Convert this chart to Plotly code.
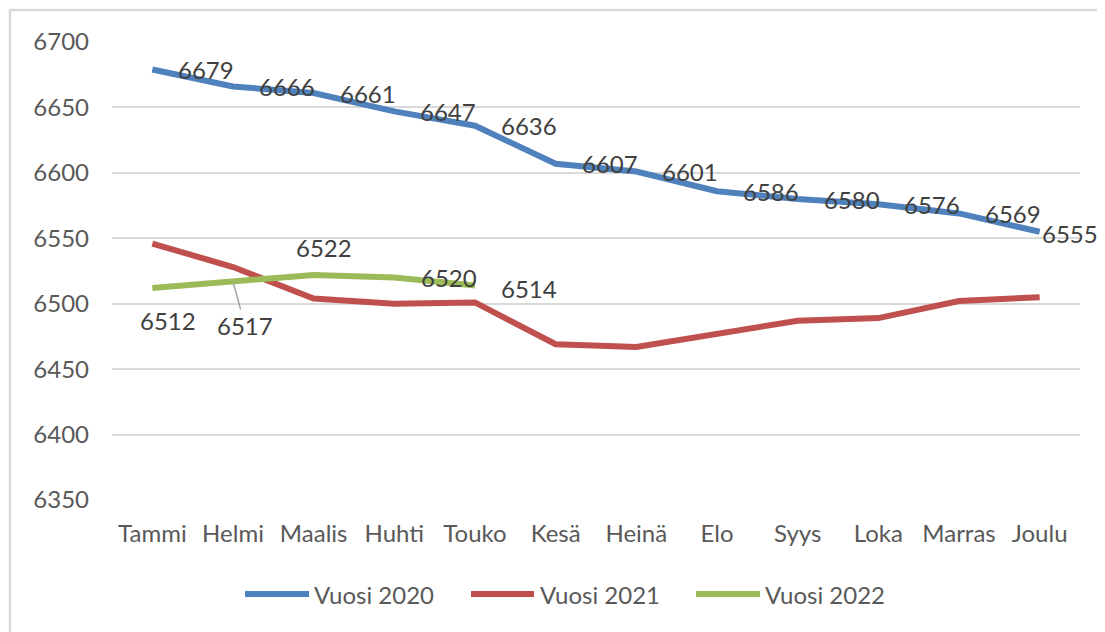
import plotly.graph_objects as go

months = ["Tammi", "Helmi", "Maalis", "Huhti", "Touko", "Kesä", "Heinä",
          "Elo", "Syys", "Loka", "Marras", "Joulu"]
vals_2020 = [6679, 6666, 6661, 6647, 6636, 6607, 6601, 6586, 6580, 6576, 6569, 6555]
vals_2021 = [6546, 6528, 6504, 6500, 6501, 6469, 6467, 6477, 6487, 6489, 6502, 6505]
vals_2022 = [6512, 6517, 6522, 6520, 6514]
series_names = ["Vuosi 2020", "Vuosi 2021", "Vuosi 2022"]
y_ticks = [6350, 6400, 6450, 6500, 6550, 6600, 6650, 6700]

colors = ["#4F81BD", "#C0504D", "#9BBB59"]
FONT = "Lato"
W, H = 1105, 632
OFF = 8  # page body margin
# desired plot area in page pixels
PL, PR, PT, PB = 112, 1080, 42, 500
L, T = PL - OFF, PT - OFF
R = W - (PR - OFF)
B = H - (PB - OFF)
PW, PH = PR - PL, PB - PT


def px_x(x):
    return (x - PL) / PW


def px_y(y):
    return (PB - y) / PH


fig = go.Figure()
for name, vals, col in zip(series_names, [vals_2020, vals_2021, vals_2022], colors):
    fig.add_trace(go.Scatter(
        x=months[:len(vals)], y=vals, mode="lines", name=name,
        line=dict(color=col, width=6), showlegend=False,
    ))

annotations = []
label_font = dict(family=FONT, size=24, color="#404040")

# Blue labels: right of point (last one clamped to chart edge)
for i, (m, v) in enumerate(zip(months, vals_2020)):
    last = i == len(months) - 1
    annotations.append(dict(x=m, y=v, xref="x", yref="y", text=str(v),
                            showarrow=False, xanchor="left", yanchor="middle",
                            xshift=0 if last else 24, yshift=-2 if last else 0,
                            font=label_font))

# Green labels: custom placement
green_pos = [
    dict(xanchor="center", xshift=16, yshift=-32),
    None,
    dict(xanchor="center", xshift=10, yshift=27),
    dict(xanchor="left", xshift=25, yshift=0),
    dict(xanchor="left", xshift=24, yshift=-3),
]
for i, (m, v) in enumerate(zip(months, vals_2022)):
    p = green_pos[i]
    if p is None:
        annotations.append(dict(x=m, y=v, xref="x", yref="y", text=str(v),
                                showarrow=True, arrowhead=0, arrowwidth=1.5,
                                arrowcolor="#A6A6A6", ax=12, ay=44, standoff=1,
                                font=label_font))
    else:
        annotations.append(dict(x=m, y=v, xref="x", yref="y", text=str(v),
                                showarrow=False, yanchor="middle", font=label_font, **p))

# Custom legend
shapes = []
legend_items = [(245, 309, 312), (471, 534, 538), (696, 760, 763)]
ly = 594
for (x0, x1, tx), name, col in zip(legend_items, series_names, colors):
    shapes.append(dict(type="line", xref="paper", yref="paper",
                       x0=px_x(x0), x1=px_x(x1), y0=px_y(ly), y1=px_y(ly),
                       line=dict(color=col, width=6)))
    annotations.append(dict(xref="paper", yref="paper", x=px_x(tx), y=px_y(ly),
                            text=name, showarrow=False, xanchor="left",
                            yanchor="middle", font=dict(family=FONT, size=24, color="#595959")))

# Chart border
shapes.append(dict(type="rect", xref="paper", yref="paper",
                   x0=px_x(10), x1=px_x(W + 20), y0=px_y(H + 20), y1=px_y(10),
                   line=dict(color="#D9D9D9", width=2.5), fillcolor="rgba(0,0,0,0)",
                   layer="below"))

fig.update_layout(
    width=W, height=H,
    margin=dict(l=L, r=R, t=T, b=B),
    paper_bgcolor="white", plot_bgcolor="white",
    font=dict(family=FONT, size=24, color="#595959"),
    showlegend=False,
    annotations=annotations,
    shapes=shapes,
    xaxis=dict(type="category", categoryorder="array", categoryarray=months,
               range=[-0.5, 11.5], showgrid=False, showline=False, zeroline=False,
               ticks="", ticklabelstandoff=17,
               tickfont=dict(family=FONT, size=24, color="#595959")),
    yaxis=dict(range=[6350, 6700], tickvals=y_ticks, showgrid=True,
               gridcolor="#D9D9D9", gridwidth=2, zeroline=False, showline=False,
               ticks="", ticklabelstandoff=22,
               tickfont=dict(family=FONT, size=24, color="#595959")),
)

fig.write_html("out.html")
